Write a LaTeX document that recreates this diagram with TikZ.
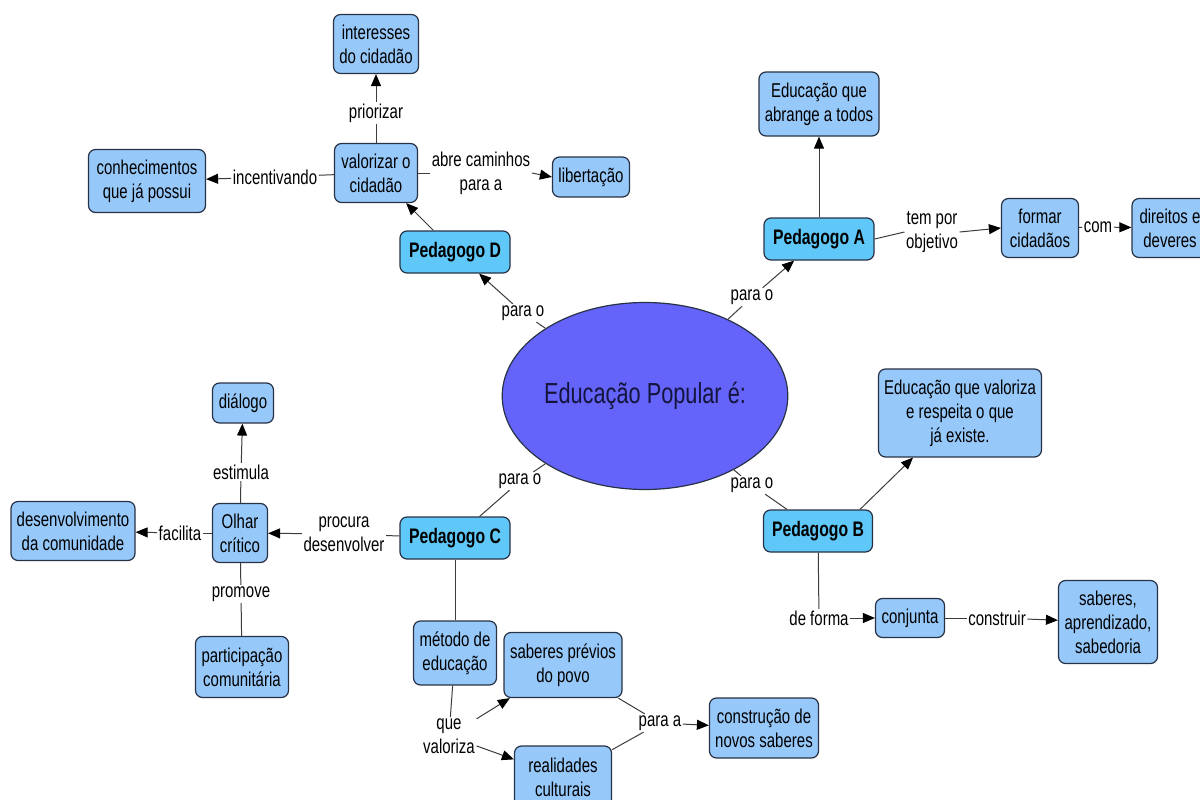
\documentclass[tikz,border=0pt]{standalone}
\usepackage{fontspec}
\setmainfont{Liberation Sans}[FakeStretch=0.75]
\usetikzlibrary{arrows.meta,shapes.geometric}
\definecolor{cfill}{RGB}{150,200,250}
\definecolor{pfill}{RGB}{95,200,248}
\definecolor{efill}{RGB}{100,100,250}
\definecolor{bcol}{RGB}{40,50,70}
\definecolor{lcol}{RGB}{60,60,60}
\definecolor{etext}{RGB}{20,20,60}
\begin{document}
\begin{tikzpicture}[x=1pt,y=-1pt,
  every node/.style={font=\fontsize{20}{24}\selectfont},
  concept/.style={draw=bcol,fill=cfill,rounded corners=7pt,align=center,inner sep=1pt,line width=1.2pt},
  ped/.style={concept,fill=pfill,font=\fontsize{21}{24}\selectfont\bfseries},
  lbl/.style={align=center,inner sep=1.5pt},
  link/.style={draw=lcol,line width=1pt},
  arr/.style={link,-{Triangle[length=12pt,width=10pt,color=black]}}]
\useasboundingbox (0,0) rectangle (1200,800);
\fill[white] (0,0) rectangle (1200,800);
% central ellipse
\node[ellipse,draw=bcol,fill=efill,line width=1.2pt,minimum width=249,minimum height=187,inner sep=0pt,text=etext] (ep) at (645,396) {\fontsize{29}{32}\selectfont Educação Popular é:};
% concepts
\node[concept,minimum width=85,minimum height=59] (int) at (376,44) {interesses\\do cidadão};
\node[concept,minimum width=83,minimum height=59] (val) at (376,173) {valorizar o\\cidadão};
\node[concept,minimum width=117,minimum height=63] (con) at (147,181) {conhecimentos\\que já possui};
\node[concept,minimum width=77,minimum height=40] (lib) at (591,177) {libertação};
\node[ped,minimum width=110,minimum height=42] (pD) at (455,252) {Pedagogo D};
\node[concept,minimum width=120,minimum height=64] (abr) at (819,104) {Educação que\\abrange a todos};
\node[ped,minimum width=110,minimum height=42] (pA) at (819,239) {Pedagogo A};
\node[concept,minimum width=77,minimum height=59] (for) at (1040,228) {formar\\cidadãos};
\node[concept,minimum width=76,minimum height=59] (dir) at (1170,228) {direitos e\\deveres};
\node[concept,minimum width=163,minimum height=88] (eva) at (960,413) {Educação que valoriza\\e respeita o que\\já existe.};
\node[ped,minimum width=109,minimum height=42] (pB) at (818,531) {Pedagogo B};
\node[concept,minimum width=69,minimum height=39] (cnj) at (910,618) {conjunta};
\node[concept,minimum width=99,minimum height=83] (sab) at (1108,622) {saberes,\\aprendizado,\\sabedoria};
\node[concept,minimum width=61,minimum height=40] (dia) at (243,403) {diálogo};
\node[concept,minimum width=55,minimum height=59] (olh) at (240,533) {Olhar\\crítico};
\node[concept,minimum width=124,minimum height=59] (des) at (73,531) {desenvolvimento\\da comunidade};
\node[ped,minimum width=110,minimum height=42] (pC) at (455,538) {Pedagogo C};
\node[concept,minimum width=93,minimum height=61] (par) at (242,667) {participação\\comunitária};
\node[concept,minimum width=83,minimum height=64] (met) at (455,653) {método de\\educação};
\node[concept,minimum width=118,minimum height=65] (sp) at (563,665) {saberes prévios\\do povo};
\node[concept,minimum width=109,minimum height=60] (cns) at (764,728) {construção de\\novos saberes};
\node[concept,minimum width=97,minimum height=62] (rc) at (563,777) {realidades\\culturais};
% linking phrases
\node[lbl] (lpri) at (376,113) {priorizar};
\node[lbl] (linc) at (275,177) {incentivando};
\node[lbl] (labr) at (481,173) {abre caminhos\\para a};
\node[lbl] (lpD) at (523,313) {para o};
\node[lbl] (lpA) at (752,297) {para o};
\node[lbl] (ltem) at (932,232) {tem por\\objetivo};
\node[lbl] (lcom) at (1098,227) {com};
\node[lbl] (lpB) at (752,485) {para o};
\node[lbl] (lpC) at (520,481) {para o};
\node[lbl] (lest) at (241,472) {estimula};
\node[lbl] (lfac) at (180,533) {facilita};
\node[lbl] (lpro) at (241,594) {promove};
\node[lbl] (lproc) at (344,534) {procura\\desenvolver};
\node[lbl] (ldef) at (819,618) {de forma};
\node[lbl] (lcst) at (997,618) {construir};
\node[lbl] (lque) at (449,736) {que\\valoriza};
\node[lbl] (lpa) at (660,723) {para a};
% connectors: Pedagogo D branch
\draw[link] (ep) -- (lpD);
\draw[arr] (lpD) -- (pD);
\draw[arr] (pD) -- (val);
\draw[link] (val) -- (lpri);
\draw[arr] (lpri) -- (int);
\draw[link] (val) -- (linc);
\draw[arr] (linc) -- (con);
\draw[link] (val.east) -- (labr.west);
\draw[arr] (labr.east) -- (lib.west);
% Pedagogo A branch
\draw[link] (ep) -- (lpA);
\draw[arr] (lpA) -- (pA);
\draw[arr] (pA) -- (abr);
\draw[link] (pA.east) -- (ltem.west);
\draw[arr] (ltem.east) -- (for.west);
\draw[link] (for) -- (lcom);
\draw[arr] (lcom) -- (dir);
% Pedagogo B branch
\draw[link] (ep) -- (lpB);
\draw[link] (lpB) -- (pB);
\draw[arr] ([xshift=42pt]pB.north) -- ([xshift=-47pt]eva.south);
\draw[link] (pB) -- (ldef);
\draw[arr] (ldef) -- (cnj);
\draw[link] (cnj) -- (lcst);
\draw[arr] (lcst) -- (sab);
% Pedagogo C branch
\draw[link] (ep) -- (lpC);
\draw[link] (lpC) -- (pC);
\draw[link] (pC) -- (lproc);
\draw[arr] (lproc) -- (olh);
\draw[link] (olh) -- (lest);
\draw[arr] (lest) -- (dia);
\draw[link] (olh) -- (lfac);
\draw[arr] (lfac) -- (des);
\draw[link] (olh) -- (lpro);
\draw[link] (lpro) -- (par);
\draw[link] (pC) -- (met);
\draw[link] (met) -- (lque);
\draw[arr] (lque) -- (sp);
\draw[arr] (lque) -- (rc);
\draw[link] (sp) -- (lpa);
\draw[link] (rc) -- (lpa);
\draw[arr] (lpa) -- (cns);
\end{tikzpicture}
\end{document}
